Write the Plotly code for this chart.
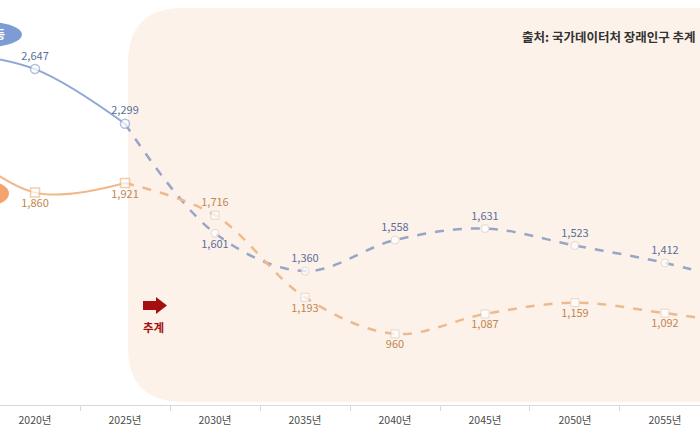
import plotly.graph_objects as go

# 연도 (2015, 2060은 화면 밖)
years = ["2015년", "2020년", "2025년", "2030년", "2035년", "2040년", "2045년", "2050년", "2055년", "2060년"]
blue_vals = [2760, 2647, 2299, 1601, 1360, 1558, 1631, 1523, 1412, 1263]
orange_vals = [2228, 1860, 1921, 1716, 1193, 960, 1087, 1159, 1092, 1012]
last_actual = 2  # 2025년까지 실적, 이후 추계

blue_line = "#8FA7D6"
blue_dash = "#98A5C6"
blue_text = "#5B6E99"
orange_line = "#EFB98B"
orange_dash = "#EDBA8E"
orange_text = "#BF8650"
font = "Noto Sans CJK KR"

fig = go.Figure()

def add_series(vals, c_line, c_dash, c_text, symbol, label_pos):
    fig.add_trace(go.Scatter(
        x=years[:last_actual + 1], y=vals[:last_actual + 1], mode="lines",
        line=dict(color=c_line, width=2, shape="spline"), hoverinfo="skip"))
    fig.add_trace(go.Scatter(
        x=years[last_actual:], y=vals[last_actual:], mode="lines",
        line=dict(color=c_dash, width=2.5, dash="dash", shape="spline"), hoverinfo="skip"))
    pts = list(range(1, len(years) - 1))
    fig.add_trace(go.Scatter(
        x=[years[i] for i in pts], y=[vals[i] for i in pts],
        mode="markers+text",
        text=[f"{vals[i]:,}" for i in pts],
        textposition=[label_pos[i] for i in pts],
        textfont=dict(family=font, size=11, color=c_text),
        marker=dict(symbol=symbol, size=[9 if i <= last_actual else 8 for i in pts],
                    color="white",
                    line=dict(color=[c_line if i <= last_actual else "#D9CFC8" for i in pts],
                              width=[1.5 if i <= last_actual else 1 for i in pts])),
        hoverinfo="skip"))

blue_pos = ["top center"] * len(years)
blue_pos[3] = "bottom center"
orange_pos = ["bottom center"] * len(years)
orange_pos[3] = "top center"

add_series(blue_vals, blue_line, blue_dash, blue_text, "circle", blue_pos)
add_series(orange_vals, orange_line, orange_dash, orange_text, "square", orange_pos)

W, H = 700, 405  # plot area in px


def px(x):
    return x / W


def py(y):
    return 1 - y / H


# 추계 구간 배경 (둥근 사각형)
x0, yt, yb = px(128), py(8), py(402)
rx, ry = 55 / W, 55 / H
bg_path = (f"M {x0},{yt - ry} L {x0},{yb + ry} Q {x0},{yb} {x0 + rx},{yb} "
           f"L 1.05,{yb} L 1.05,{yt} L {x0 + rx},{yt} Q {x0},{yt} {x0},{yt - ry} Z")
shapes = [dict(type="path", xref="paper", yref="paper", path=bg_path,
               fillcolor="#FDF2EA", line=dict(width=0), layer="below")]

# 잘린 범례 알약
shapes.append(dict(type="circle", xref="paper", yref="paper",
                   x0=px(-45), x1=px(22), y0=py(47), y1=py(22),
                   fillcolor="#7D9CD5", line=dict(width=0)))
shapes.append(dict(type="circle", xref="paper", yref="paper",
                   x0=px(-45), x1=px(9), y0=py(207), y1=py(180),
                   fillcolor="#F4A36C", line=dict(width=0)))

# 추계 화살표
arrow = (f"M {px(143)},{py(301)} L {px(156)},{py(301)} L {px(156)},{py(297)} "
         f"L {px(167)},{py(305.5)} L {px(156)},{py(314)} L {px(156)},{py(310)} "
         f"L {px(143)},{py(310)} Z")
shapes.append(dict(type="path", xref="paper", yref="paper", path=arrow,
                   fillcolor="#A50F0F", line=dict(width=0)))

annotations = [
    dict(text="<b>출처: 국가데이터처 장래인구 추계</b>", xref="paper", yref="paper",
         x=0.997, y=py(37), xanchor="right", yanchor="middle", showarrow=False,
         font=dict(family=font, size=12.5, color="#333333")),
    dict(text="<b>추계</b>", xref="paper", yref="paper",
         x=px(153), y=py(327), xanchor="center", yanchor="middle", showarrow=False,
         font=dict(family=font, size=11.5, color="#A50F0F")),
    dict(text="<b>초등</b>", xref="paper", yref="paper",
         x=px(7), y=py(34), xanchor="right", yanchor="middle", showarrow=False,
         font=dict(family=font, size=11, color="white")),
]

fig.update_layout(
    width=700, height=440,
    margin=dict(l=0, r=0, t=0, b=35),
    paper_bgcolor="white", plot_bgcolor="rgba(0,0,0,0)",
    showlegend=False,
    shapes=shapes, annotations=annotations,
    modebar=dict(bgcolor="rgba(0,0,0,0)", color="rgba(0,0,0,0)", activecolor="rgba(0,0,0,0)"),
    xaxis=dict(type="category", range=[0.611, 8.389], showgrid=False, zeroline=False,
               showline=True, linecolor="#D9D9D9", linewidth=1, automargin=False,
               ticks="outside", tickson="boundaries", ticklen=5, tickcolor="#D9D9D9",
               ticklabelstandoff=5,
               tickfont=dict(family=font, size=10.5, color="#4A4A4A")),
    yaxis=dict(range=[507, 3087], visible=False),
)

# 페이지 기본 여백 제거, 모드바 숨김
post = ("document.body.style.margin='0px';"
        "var s=document.createElement('style');"
        "s.innerHTML='.modebar-container{display:none !important;}';"
        "document.head.appendChild(s);")
fig.write_html("out.html", post_script=post)
